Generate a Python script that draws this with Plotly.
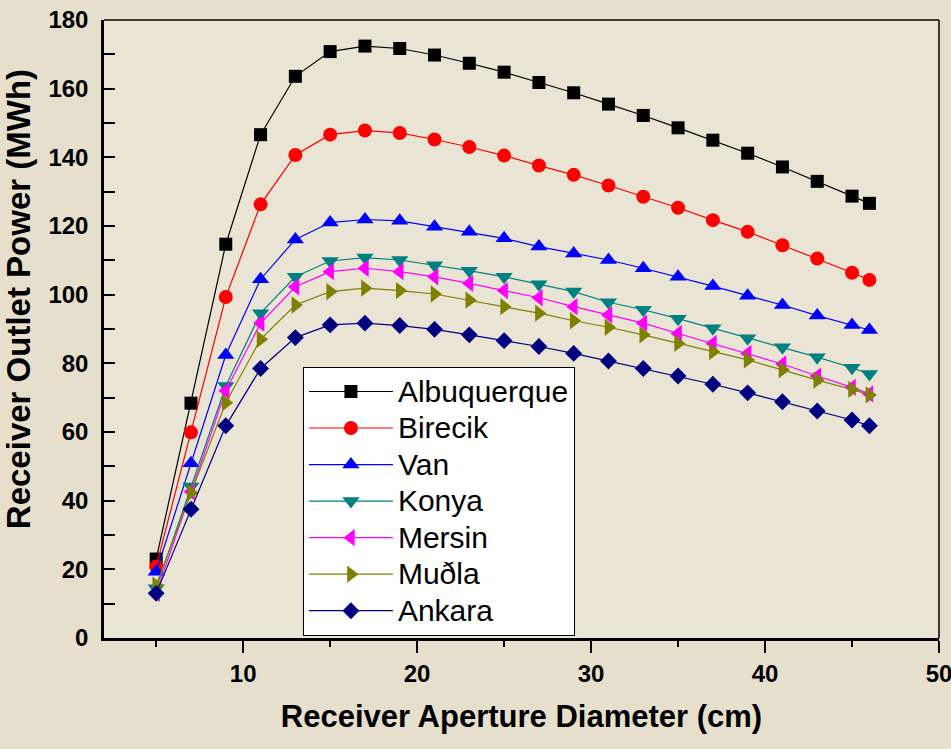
import plotly.graph_objects as go

# Receiver aperture diameter (cm)
diameter = [5, 7, 9, 11, 13, 15, 17, 19, 21, 23, 25, 27, 29, 31, 33, 35, 37, 39, 41, 43, 45, 46]

# Receiver outlet power (MWh) per site
albuquerque = [23.0, 68.4, 114.7, 146.6, 163.6, 170.8, 172.4, 171.7, 169.8, 167.4, 164.8,
               161.8, 158.8, 155.5, 152.2, 148.6, 145.0, 141.2, 137.2, 133.0, 128.7, 126.6]
birecik = [20.8, 59.9, 99.3, 126.3, 140.7, 146.6, 147.8, 147.1, 145.2, 143.0, 140.5,
           137.6, 134.9, 131.8, 128.5, 125.3, 121.7, 118.3, 114.4, 110.5, 106.4, 104.3]
van = [19.3, 50.9, 82.4, 104.5, 116.1, 121.0, 121.9, 121.5, 119.8, 118.3, 116.4,
       114.0, 112.0, 110.1, 107.7, 105.2, 102.5, 99.7, 97.0, 93.9, 91.2, 89.7]
konya = [14.5, 44.1, 73.4, 94.6, 105.2, 109.8, 110.8, 110.1, 108.6, 107.0, 105.2,
         103.0, 100.9, 97.8, 95.6, 93.0, 90.2, 87.3, 84.7, 81.8, 78.7, 76.9]
mersin = [13.0, 42.6, 72.0, 91.7, 102.3, 106.7, 107.7, 106.7, 105.2, 103.3, 101.2,
          99.1, 96.5, 94.1, 91.7, 88.7, 85.8, 82.9, 79.8, 76.3, 73.0, 71.1]
mugla = [15.4, 42.3, 68.5, 87.0, 97.0, 100.9, 101.9, 101.2, 100.2, 98.4, 96.5,
         94.6, 92.4, 90.5, 88.3, 85.8, 83.4, 81.0, 78.1, 75.1, 72.4, 70.8]
ankara = [13.0, 37.5, 61.8, 78.5, 87.5, 91.2, 91.7, 91.0, 89.9, 88.3, 86.6,
          84.9, 82.9, 80.7, 78.5, 76.3, 73.9, 71.4, 68.8, 66.1, 63.5, 61.8]

series = [
    ("Albuquerque", albuquerque, "#000000", "square", 13),
    ("Birecik", birecik, "#ff0000", "circle", 14),
    ("Van", van, "#0000ff", "triangle-up", 15),
    ("Konya", konya, "#008080", "triangle-down", 15),
    ("Mersin", mersin, "#ff00ff", "triangle-left", 15),
    ("Muðla", mugla, "#808000", "triangle-right", 15),
    ("Ankara", ankara, "#000080", "diamond", 13),
]

fig = go.Figure()
for name, values, color, symbol, size in series:
    fig.add_trace(go.Scatter(
        x=diameter, y=values,
        name=f"<span style='font-size:30px'>{name}</span>",
        mode="lines+markers",
        line=dict(color=color, width=1.2),
        marker=dict(symbol=symbol, size=size, color=color, line=dict(width=0)),
    ))

paper_bg = "#e5dfcc"
plot_bg = "#e9e4d4"
family = "Arial, Liberation Sans, sans-serif"
tick_font = dict(family=family, size=24, color="black")

fig.update_layout(
    width=951, height=749,
    margin=dict(l=104, r=12, t=20, b=111),
    paper_bgcolor=paper_bg, plot_bgcolor=plot_bg,
    font=dict(family=family, color="black"),
    showlegend=True,
    legend=dict(
        x=0.238, y=0.4385, xanchor="left", yanchor="top",
        bgcolor="white", bordercolor="black", borderwidth=1.2,
        font=dict(family=family, size=25.8, color="black"),
        itemwidth=84, tracegroupgap=0,
    ),
    xaxis=dict(
        range=[2, 50], tickmode="array", tickvals=[10, 20, 30, 40, 50],
        ticktext=["<b>10</b>", "<b>20</b>", "<b>30</b>", "<b>40</b>", "<b>50</b>"],
        ticks="outside", ticklen=12, tickwidth=2, tickcolor="black",
        minor=dict(tickvals=[5, 15, 25, 35, 45], ticks="outside", ticklen=6,
                   tickwidth=2, tickcolor="black"),
        showgrid=False, zeroline=False, showline=True, linecolor="black", linewidth=2.5,
        tickfont=tick_font, ticklabeloverflow="allow", automargin=False,
        title=dict(text="<b>Receiver Aperture Diameter (cm)</b>",
                   font=dict(family=family, size=31, color="black"), standoff=20),
    ),
    yaxis=dict(
        range=[0, 180], tickmode="array", tickvals=list(range(0, 181, 20)),
        ticktext=[f"<b>{v}</b>" for v in range(0, 181, 20)],
        ticks="inside", ticklen=11, tickwidth=2, tickcolor="black",
        minor=dict(tickvals=list(range(10, 180, 20)), ticks="inside", ticklen=11,
                   tickwidth=2, tickcolor="black"),
        showgrid=False, zeroline=False, showline=True, linecolor="black", linewidth=2.5,
        tickfont=tick_font, ticklabelstandoff=8, automargin=False,
    ),
)

# vertical y-axis title, placed a little above the axis midpoint
fig.add_annotation(
    text="<b>Receiver Outlet Power (MWh)</b>", textangle=-90,
    xref="paper", yref="paper", x=-0.102, y=0.548,
    xanchor="center", yanchor="middle", showarrow=False,
    font=dict(family=family, size=33, color="black"),
)

# thin frame along the top and right edges of the plotting area
fig.add_shape(type="line", xref="paper", yref="paper", x0=0, x1=1, y0=1, y1=1,
              line=dict(color="black", width=1.5))
fig.add_shape(type="line", xref="paper", yref="paper", x0=1, x1=1, y0=0, y1=1,
              line=dict(color="black", width=1.5))

fig.write_html("out.html")
